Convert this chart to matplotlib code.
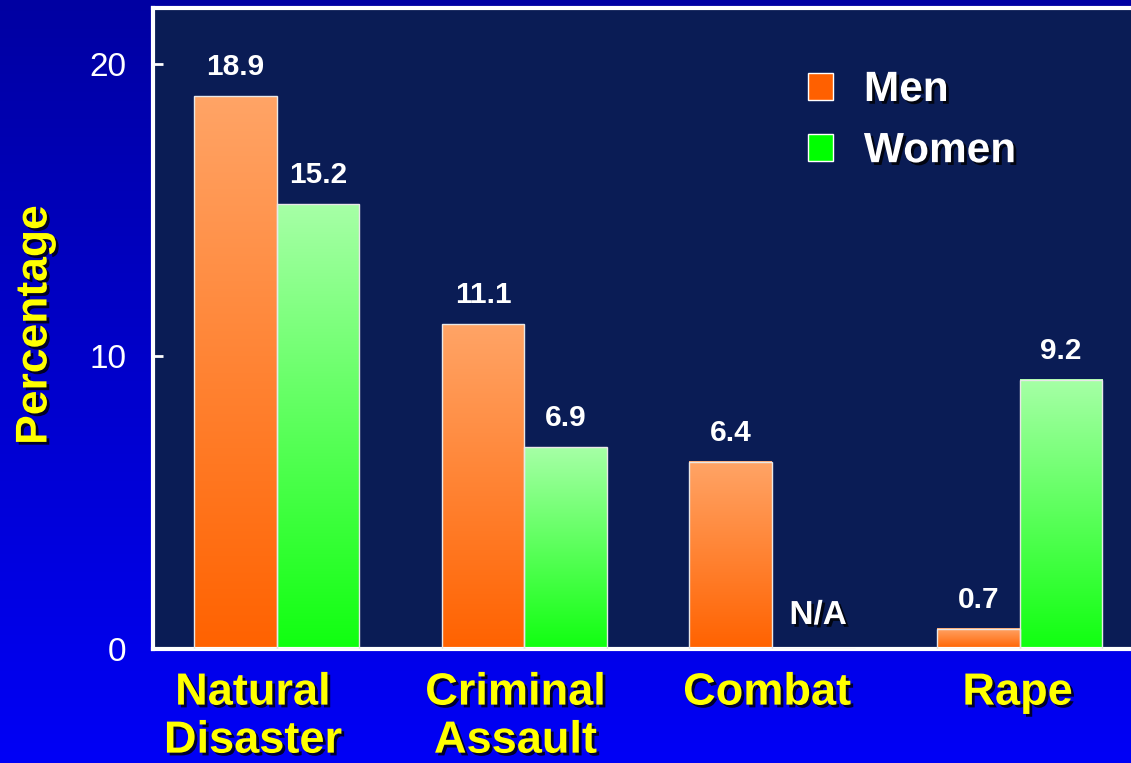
import numpy as np
import matplotlib
matplotlib.use("Agg")
import matplotlib.pyplot as plt
import matplotlib.patheffects as pe
import matplotlib.transforms as mtransforms
from matplotlib.patches import Patch
from matplotlib.colors import LinearSegmentedColormap

categories = ["Natural\nDisaster", "Criminal\nAssault", "Combat", "Rape"]
men = [18.9, 11.1, 6.4, 0.7]
women = [15.2, 6.9, np.nan, 9.2]
series_names = ["Men", "Women"]
yticks = [0, 10, 20]

W, H = 1131, 763
fig = plt.figure(figsize=(W / 100, H / 100), dpi=100)

# background gradient
bg = fig.add_axes([0, 0, 1, 1], zorder=-10)
grad = np.linspace(0, 1, 256).reshape(-1, 1)
bg_cmap = LinearSegmentedColormap.from_list("bg", ["#0000a2", "#0000f6"])
bg.imshow(grad, aspect="auto", cmap=bg_cmap, extent=(0, 1, 0, 1), origin="upper")
bg.set_axis_off()

ax = fig.add_axes([153 / W, 1 - 649 / H, 1 - 153 / W, (649 - 8) / H])
ax.set_facecolor("#0a1c55")

x = np.arange(len(categories))
bw = 1 / 3
men_cmap = LinearSegmentedColormap.from_list("m", ["#ff6200", "#ffa466"])
wom_cmap = LinearSegmentedColormap.from_list("w", ["#10ff10", "#a6ffa6"])

b1 = ax.bar(x - bw / 2, np.nan_to_num(men), bw, facecolor="none", edgecolor="#e8e8e8", lw=1, zorder=3)
b2 = ax.bar(x + bw / 2, np.nan_to_num(women), bw, facecolor="none", edgecolor="#e8e8e8", lw=1, zorder=3)

vgrad = np.linspace(0, 1, 256).reshape(-1, 1)
for bars, cmap in ((b1, men_cmap), (b2, wom_cmap)):
    for r in bars:
        h = r.get_height()
        if h > 0:
            ax.imshow(vgrad, aspect="auto", cmap=cmap, origin="lower",
                      extent=(r.get_x(), r.get_x() + r.get_width(), 0, h), zorder=2)
ax.set_xlim(-0.5, 3.45)
ax.set_ylim(0, 21.91)

shadow = [pe.SimplePatchShadow(offset=(2, -2), shadow_rgbFace="black", alpha=0.8), pe.Normal()]

for vals, bars in ((men, b1), (women, b2)):
    for v, r in zip(vals, bars):
        na = np.isnan(v)
        txt = "N/A" if na else f"{v}"
        yy = 0 if na else v
        ax.annotate(txt, (r.get_x() + r.get_width() / 2 + (0.02 if na else 0), yy),
                    xytext=(0, 15 if not na else 18),
                    textcoords="offset points", ha="center", va="baseline",
                    color="white", fontsize=24 if na else 21.5, fontweight="bold",
                    family="Liberation Sans", zorder=5,
                    path_effects=shadow if na else None)

for s in ("left", "top", "bottom"):
    ax.spines[s].set_color("white")
    ax.spines[s].set_linewidth(3)
ax.spines["right"].set_visible(False)

ax.set_yticks(yticks)
ax.set_yticklabels([str(t) for t in yticks], fontsize=24, color="white", family="Liberation Sans")
ax.tick_params(axis="y", direction="in", length=7, width=2, color="white", pad=19)

ax.set_xticks(x)
ax.set_xticklabels(categories, fontsize=32.5, fontweight="bold", color="#ffff00",
                   family="Liberation Sans", linespacing=1.22)
ax.tick_params(axis="x", length=0, pad=17)
label_shift_px = [-24, -9, -5, -2]
for t, dx in zip(ax.get_xticklabels(), label_shift_px):
    t.set_path_effects(shadow)
    t.set_transform(t.get_transform() + mtransforms.ScaledTranslation(dx / 100, 0, fig.dpi_scale_trans))

fig.text(35 / W, 1 - 325 / H, "Percentage", rotation=90, ha="center", va="center",
         fontsize=32, fontweight="bold", color="#ffff00", family="Liberation Sans",
         path_effects=shadow)

handles = [Patch(facecolor="#ff6000", edgecolor="white", lw=1),
           Patch(facecolor="#00ff00", edgecolor="white", lw=1)]
leg = ax.legend(handles, series_names, loc="upper left",
                bbox_to_anchor=((808 - 153) / (W - 153), (649 - 70) / (649 - 8)),
                frameon=False, prop={"family": "Liberation Sans", "weight": "bold", "size": 30.5},
                handlelength=0.6, handleheight=0.6, handletextpad=0.72,
                labelspacing=0.5, borderpad=0, borderaxespad=0)
for t in leg.get_texts():
    t.set_color("white")
    t.set_path_effects(shadow)

fig.savefig("out.png", dpi=100, facecolor=fig.get_facecolor())
